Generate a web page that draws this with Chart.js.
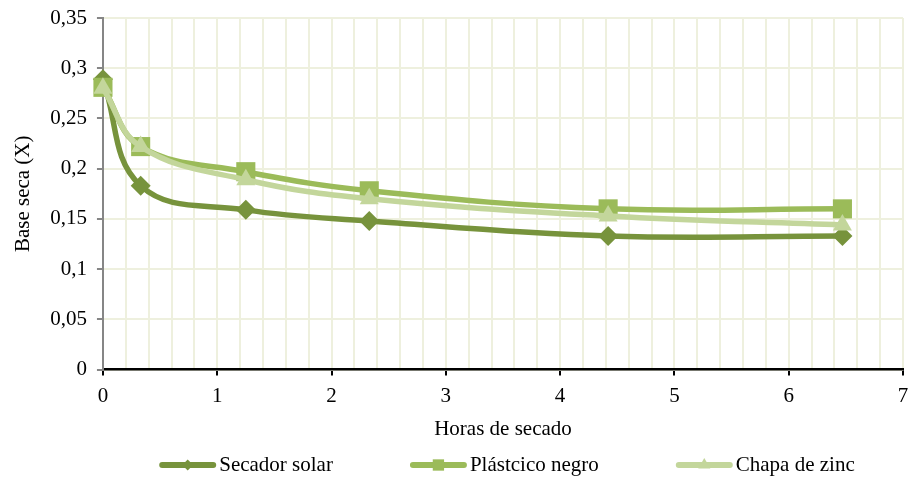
<!DOCTYPE html>
<html>
<head>
<meta charset="utf-8">
<script src="https://cdn.jsdelivr.net/npm/chart.js@4"></script>
<style>
  html, body { margin: 0; padding: 0; background: #fff; }
  #wrap { width: 909px; height: 480px; }
</style>
</head>
<body>
<div id="wrap"><canvas id="chart" width="909" height="480"></canvas></div>
<script>
const hours = [0, 0.33, 1.25, 2.33, 4.42, 6.47]
const secadorSolar = [0.289, 0.183, 0.159, 0.148, 0.133, 0.133]
const plasticoNegro = [0.281, 0.222, 0.197, 0.178, 0.160, 0.160]
const chapaZinc = [0.280, 0.222, 0.189, 0.170, 0.153, 0.144]
const seriesNames = ['Secador solar', 'Plástcico negro', 'Chapa de zinc']

const dark = '#77933c'
const mid = '#9bbb59'
const light = '#c3d69b'
const gridColor = '#eef0de'
const fontFamily = "'Liberation Serif', 'Times New Roman', serif"

Chart.defaults.font.family = fontFamily
Chart.defaults.font.size = 21
Chart.defaults.color = '#000'

const pts = ys => ys.map((y, i) => ({ x: hours[i], y }))
const fmt = v => String(Math.round(v * 100) / 100).replace('.', ',')
const isInt = v => Math.abs(v - Math.round(v)) < 1e-6

const legendMarkers = [
  { pointStyle: 'rectRot', radius: 5.5 },
  { pointStyle: 'rect', radius: 8 },
  { pointStyle: 'triangle', radius: 7 },
]

// Excel-style legend: short line with the marker in the middle, then the label
const excelLegend = {
  id: 'excelLegend',
  afterDraw(chart) {
    const ctx = chart.ctx
    const lineLen = 57, textGap = 3, itemGap = 77
    const cy = 465
    ctx.save()
    ctx.font = '21px ' + fontFamily
    const widths = seriesNames.map(n => lineLen + textGap + ctx.measureText(n).width)
    const total = widths.reduce((a, b) => a + b, 0) + itemGap * (widths.length - 1)
    let x = (chart.chartArea.left + chart.chartArea.right) / 2 + 4 - total / 2
    chart.data.datasets.forEach((ds, i) => {
      ctx.strokeStyle = ds.borderColor
      ctx.fillStyle = ds.borderColor
      ctx.lineWidth = 6
      ctx.lineCap = 'round'
      ctx.beginPath()
      ctx.moveTo(x + 3, cy)
      ctx.lineTo(x + lineLen - 3, cy)
      ctx.stroke()
      const m = legendMarkers[i]
      Chart.helpers.drawPoint(ctx, { pointStyle: m.pointStyle, radius: m.radius, rotation: 0, borderWidth: 0 },
        x + lineLen / 2, cy)
      ctx.fillStyle = '#000'
      ctx.textBaseline = 'middle'
      ctx.textAlign = 'left'
      ctx.fillText(seriesNames[i], x + lineLen + textGap, cy)
      x += widths[i] + itemGap
    })
    ctx.restore()
  }
}

new Chart(document.getElementById('chart'), {
  type: 'line',
  plugins: [excelLegend],
  data: {
    datasets: [
      {
        label: seriesNames[0],
        data: pts(secadorSolar),
        borderColor: dark,
        backgroundColor: dark,
        pointStyle: 'rectRot',
        pointRadius: 10,
        pointHoverRadius: 10,
        order: 3,
      },
      {
        label: seriesNames[1],
        data: pts(plasticoNegro),
        borderColor: mid,
        backgroundColor: mid,
        pointStyle: 'rect',
        pointRadius: 13.5,
        pointHoverRadius: 13.5,
        order: 2,
      },
      {
        label: seriesNames[2],
        data: pts(chapaZinc),
        borderColor: light,
        backgroundColor: light,
        pointStyle: 'triangle',
        pointRadius: 11,
        pointHoverRadius: 11,
        order: 1,
      },
    ].map(d => ({
      ...d,
      borderWidth: 5.5,
      pointBorderWidth: 0,
      tension: 0.4,
      fill: false,
      clip: false,
    }))
  },
  options: {
    responsive: false,
    animation: false,
    layout: { autoPadding: false, padding: { left: 11, right: 0, top: 0, bottom: 38 } },
    plugins: {
      tooltip: { enabled: false },
      legend: { display: false },
    },
    scales: {
      x: {
        type: 'linear',
        min: 0,
        max: 7,
        title: { display: true, text: 'Horas de secado', padding: { top: 0, bottom: 0 } },
        ticks: {
          stepSize: 0.2,
          autoSkip: false,
          maxRotation: 0,
          padding: 8,
          callback: v => isInt(v) ? String(Math.round(v)) : '',
        },
        grid: {
          color: gridColor,
          lineWidth: 2,
          tickLength: 6,
          tickColor: ctx => isInt(ctx.tick.value) ? '#000' : 'transparent',
          tickWidth: 2,
        },
        border: { color: '#000', width: 2.5 },
        afterFit: scale => { scale.paddingRight = 6 },
      },
      y: {
        min: 0,
        max: 0.35,
        title: { display: true, text: 'Base seca (X)', padding: { top: 0, bottom: 4 } },
        ticks: {
          stepSize: 0.05,
          padding: 10,
          callback: v => fmt(v),
        },
        grid: {
          color: gridColor,
          lineWidth: 2,
          tickLength: 6,
          tickColor: '#868686',
          tickWidth: 2,
        },
        border: { color: '#868686', width: 2 },
        afterFit: scale => { scale.paddingTop = 18 },
      },
    },
  },
})
</script>
</body>
</html>
